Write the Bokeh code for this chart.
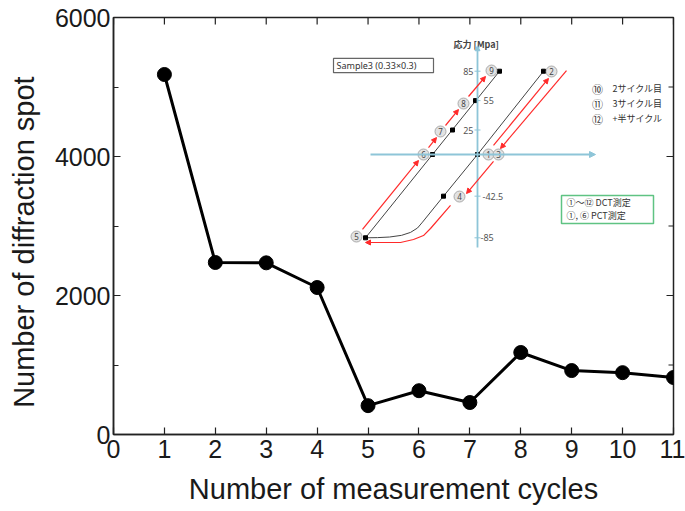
import math
from bokeh.plotting import figure
from bokeh.models import (Range1d, FixedTicker, Arrow, NormalHead, ColumnDataSource)
from bokeh.core.properties import value
from bokeh.embed import file_html
from bokeh.resources import INLINE

# ---------------- main data ----------------
cycles = [1, 2, 3, 4, 5, 6, 7, 8, 9, 10, 11]
spots = [5180, 2475, 2470, 2115, 415, 630, 460, 1180, 920, 890, 820]
x_ticks = list(range(0, 12))
y_major = [0, 2000, 4000, 6000]
y_minor = [1000, 3000, 5000]

# ---------------- inset schematic (strain: arbitrary units, stress: MPa) ----------------
stress_ticks = [85, 55, 25, -42.5, -85]
stress_tick_labels = ["85", "55", "25", "-42.5", "-85"]
load1_e = [0.0, 6.6]
load1_s = [0, 85]
unload_e = [0.0, -3.4, -5.5, -6.0, -6.7, -7.6, -8.8, -10.0, -11.2]
unload_s = [0, -42.5, -69, -75, -79.5, -82.5, -84.2, -84.8, -85]
reload_e = [-11.2, 2.2]
reload_s = [-85, 85]
pt_e = [0.0, 6.6, -3.4, -11.2, -4.5, -2.5, -0.2, 2.2]
pt_s = [0, 85, -42.5, -85, 0, 25, 55, 85]
lab_num = ["1", "3", "2", "4", "5", "6", "7", "8", "9"]
lab_e = [1.1, 2.1, 7.4, -1.8, -12.1, -5.4, -3.7, -1.4, 1.4]
lab_s = [0, 0, 84.7, -42.9, -83.7, 0, 23.5, 52, 85.7]
arr_e0 = [-11.5, -4.9, -3.2, -0.9, 1.6, 8.9, 1.6]
arr_s0 = [-76.5, 7.1, 29.6, 59.2, 9.2, 85.7, -7.1]
arr_e1 = [-5.9, -4.1, -1.9, 0.8, 7.1, 2.3, -1.1]
arr_s1 = [-6.1, 17.3, 45.9, 79.6, 77.6, 6.1, -39.8]
curve_e = [-2.7, -4.7, -5.4, -6.4, -7.7, -11.1]
curve_s = [-52, -75.5, -82.7, -86.7, -89.8, -89.8]
legend_marks = ["⑩", "⑪", "⑫"]
legend_texts = ["2サイクル目", "3サイクル目", "+半サイクル"]
note_texts = ["①～⑫ DCT測定", "①, ⑥ PCT測定"]

FONT = "Liberation Sans"
JP = "Noto Sans CJK JP"
DARK = "#222222"

p = figure(width=685, height=511, x_range=Range1d(0, 11), y_range=Range1d(0, 6000),
           output_backend="svg", toolbar_location=None,
           min_border_left=113, min_border_right=12, min_border_top=17, min_border_bottom=77)
p.extra_x_ranges = {"sx": Range1d(-36.4, 19.6)}
p.extra_y_ranges = {"sy": Range1d(-285.7, 139.8)}

p.xgrid.visible = False
p.ygrid.visible = False
p.outline_line_color = DARK
p.outline_line_width = 1.5
p.background_fill_color = "white"

p.xaxis.ticker = FixedTicker(ticks=x_ticks)
p.yaxis.ticker = FixedTicker(ticks=y_major, minor_ticks=y_minor)

for ax in (p.xaxis[0], p.yaxis[0]):
    ax.axis_line_color = DARK
    ax.axis_line_width = 1.5
    ax.major_tick_in = 7
    ax.major_tick_out = 0
    ax.minor_tick_in = 5
    ax.minor_tick_out = 0
    ax.major_tick_line_color = DARK
    ax.minor_tick_line_color = DARK
    ax.major_tick_line_width = 1.2
    ax.minor_tick_line_width = 1.2
    ax.major_label_text_font = FONT
    ax.major_label_text_font_size = "25px"
    ax.major_label_text_color = "#1a1a1a"
    ax.axis_label_text_font = FONT
    ax.axis_label_text_font_size = "29px"
    ax.axis_label_text_font_style = "normal"
    ax.axis_label_text_color = "#1a1a1a"

p.xaxis.axis_label = "Number of measurement cycles"
# non-breaking spaces shift the title slightly below the frame centre, as in the reference
p.yaxis.axis_label = "Number of diffraction spot\u00a0\u00a0\u00a0\u00a0"
p.xaxis.major_label_standoff = 5
p.yaxis.major_label_standoff = 3
p.xaxis.axis_label_standoff = 12
p.yaxis.axis_label_standoff = 12

# mirrored inward ticks on the right and top edges (clipped to the frame)
p.scatter(x=[11] * len(y_major), y=y_major, marker="dash", size=14,
          line_color=DARK, line_width=1.2)
p.scatter(x=[11] * len(y_minor), y=y_minor, marker="dash", size=10,
          line_color=DARK, line_width=1.2)
p.scatter(x=x_ticks, y=[6000] * len(x_ticks), marker="dash", angle=math.pi / 2,
          size=14, line_color=DARK, line_width=1.2)

# ---------------- inset ----------------
R = dict(x_range_name="sx", y_range_name="sy")
BLUE = "#8ec5d8"
RED = "#ff2a2a"

p.add_layout(Arrow(end=NormalHead(size=6, fill_color=BLUE, line_color=BLUE),
                   x_start=-10.7, y_start=0, x_end=11.8, y_end=0,
                   line_color=BLUE, line_width=1.8, **R))
p.add_layout(Arrow(end=NormalHead(size=5, fill_color=BLUE, line_color=BLUE),
                   x_start=0, y_start=-95, x_end=0, y_end=111,
                   line_color=BLUE, line_width=1.8, **R))
p.segment(x0=[-0.3] * len(stress_ticks), y0=stress_ticks,
          x1=[0.3] * len(stress_ticks), y1=stress_ticks,
          line_color=BLUE, line_width=1, **R)

tick_src = ColumnDataSource(dict(
    e=[-0.4, 0.6, -0.4, 0.5, 0.3], s=stress_ticks, t=stress_tick_labels,
    a=["right", "left", "right", "left", "left"]))
p.text(x="e", y="s", text="t", text_align="a", text_baseline="middle",
       text_font=value("Noto Sans"), text_font_size=value("9px"),
       text_color="#555555", source=tick_src, **R)

p.text(x=[-2.4], y=[112], text=["応力 [Mpa]"], text_align="left",
       text_baseline="middle", text_font=value(JP), text_font_size=value("9px"),
       text_font_style="bold", text_color="#444444", **R)

p.quad(left=[-14.4], right=[-4.4], top=[98], bottom=[83.5],
       fill_color="white", line_color="#666666", line_width=1.2, **R)
p.text(x=[-14.1], y=[90.7], text=["Sample3 (0.33×0.3)"], text_align="left",
       text_baseline="middle", text_font=value("Noto Sans"),
       text_font_size=value("9px"), text_color="#333333", **R)

p.line(load1_e, load1_s, line_color="#444444", line_width=1, **R)
p.line(unload_e, unload_s, line_color="#444444", line_width=1, **R)
p.line(reload_e, reload_s, line_color="#444444", line_width=1, **R)
p.scatter(pt_e, pt_s, marker="square", size=4, color="black", **R)

for e0, s0, e1, s1 in zip(arr_e0, arr_s0, arr_e1, arr_s1):
    p.add_layout(Arrow(end=NormalHead(size=5, fill_color=RED, line_color=RED),
                       x_start=e0, y_start=s0, x_end=e1, y_end=s1,
                       line_color=RED, line_width=1.2, **R))
p.line(curve_e, curve_s, line_color=RED, line_width=1.2, **R)
p.add_layout(Arrow(end=NormalHead(size=5, fill_color=RED, line_color=RED),
                   x_start=curve_e[-2], y_start=curve_s[-2],
                   x_end=curve_e[-1] - 0.1, y_end=curve_s[-1],
                   line_color=RED, line_width=1.2, **R))

p.scatter(lab_e, lab_s, marker="circle", size=11, fill_color="#e2e2e2",
          line_color="#9a9a9a", line_width=0.8, **R)
p.text(lab_e, lab_s, text=lab_num, text_align="center", text_baseline="middle",
       text_font=value("Noto Sans"), text_font_size=value("8px"),
       text_color="#444444", **R)

p.text(x=[12.0] * 3, y=[67.3, 52.0, 36.7], text=legend_marks, text_align="center",
       text_baseline="middle", text_font=value(JP), text_font_size=value("11px"),
       text_color="#333333", **R)
p.text(x=[13.5] * 3, y=[67.3, 52.0, 36.7], text=legend_texts, text_align="left",
       text_baseline="middle", text_font=value(JP), text_font_size=value("9px"),
       text_color="#333333", **R)

p.quad(left=[8.4], right=[17.6], top=[-41.8], bottom=[-70.4],
       fill_color="white", line_color="#5fc383", line_width=1.5, **R)
p.text(x=[8.9, 8.9], y=[-48.9, -62.2], text=note_texts, text_align="left",
       text_baseline="middle", text_font=value(JP), text_font_size=value("9px"),
       text_color="#333333", **R)

# ---------------- main series ----------------
p.line(cycles, spots, line_color="black", line_width=3)
p.scatter(cycles, spots, marker="circle", size=14, color="black")

open("out.html", "w").write(file_html(p, INLINE))
